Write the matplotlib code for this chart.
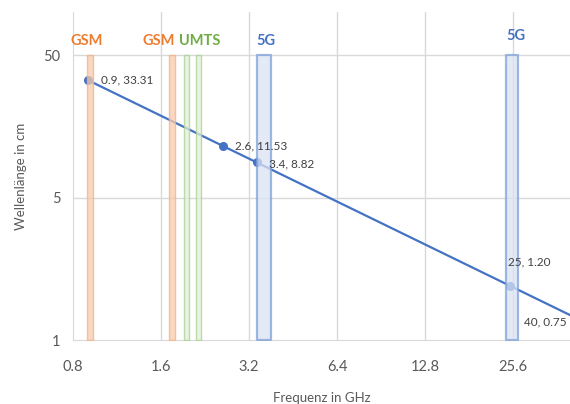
import matplotlib
matplotlib.use('Agg')
import matplotlib.pyplot as plt
from matplotlib.ticker import FixedLocator, NullLocator

plt.rcParams['font.family'] = ['Lato', 'DejaVu Sans']

# line data: wavelength (cm) over frequency (GHz)
freq = [0.9, 2.6, 3.4, 25, 40]
wave = [33.31, 11.53, 8.82, 1.20, 0.75]
point_labels = ['0.9, 33.31', '2.6, 11.53', '3.4, 8.82', '25, 1.20', '40, 0.75']
label_offsets = [(13, 0), (12, 0), (12, -1), (-2, 24), (-46, -7)]

# frequency bands (GHz)
band_lo = [0.89, 1.71, 1.92, 2.11, 3.4, 24.25]
band_hi = [0.935, 1.79, 1.99, 2.2, 3.8, 26.5]
band_kind = ['gsm', 'gsm', 'umts', 'umts', '5g', '5g']
band_top = 50
band_bottom = 0.5

band_names = ['GSM', 'GSM', 'UMTS', '5G', '5G']
band_name_x = [0.89, 1.575, 2.17, 3.66, 26.2]
band_name_y = [63, 63, 63, 63, 68]
band_name_kind = ['gsm', 'gsm', 'umts', '5g', '5g']

xticks = [0.8, 1.6, 3.2, 6.4, 12.8, 25.6]
xtick_labels = ['0.8', '1.6', '3.2', '6.4', '12.8', '25.6']
yticks = [0.5, 5, 50]
ytick_labels = ['1', '5', '50']

styles = {
    'gsm': dict(face='#F8CBAD', edge='#F4B183', lw=1.0, text='#ED7D31'),
    'umts': dict(face='#E2EFDA', edge='#A9D18E', lw=1.0, text='#70AD47'),
    '5g': dict(face='#DAE3F3', edge='#7EA1D9', lw=1.6, text='#4472C4'),
}

fig = plt.figure(figsize=(5.7, 4.04), dpi=100)
ax = fig.add_axes([0.128, 0.158, 0.872, 0.812])

ax.set_xscale('log', base=2)
ax.set_yscale('log', base=10)
ax.set_xlim(0.8, 40)
ax.set_ylim(0.5, 100)

# grid
for x in xticks[1:]:
    ax.axvline(x, color='#D9D9D9', lw=1.0, zorder=0)
for y in yticks[1:]:
    ax.axhline(y, color='#D9D9D9', lw=1.0, zorder=0)

# line (the last point lies outside the plot, only its label shows)
ax.plot(freq, wave, color='#4472C4', lw=1.6, marker='o', ms=5.5, zorder=2,
        markevery=[0, 1, 2, 3])

# bands drawn over the line
for lo, hi, kind in zip(band_lo, band_hi, band_kind):
    s = styles[kind]
    ax.fill_between([lo, hi], band_bottom, band_top, facecolor=s['face'], edgecolor=s['edge'],
                    lw=s['lw'], alpha=0.75, zorder=3)

for name, x, y, kind in zip(band_names, band_name_x, band_name_y, band_name_kind):
    ax.text(x, y, name, color=styles[kind]['text'], fontsize=10.5, fontweight='bold',
            ha='center', va='center', zorder=5)

for x, y, lab, off in zip(freq, wave, point_labels, label_offsets):
    ax.annotate(lab, (x, y), xytext=off, textcoords='offset pixels', fontsize=8.5,
                color='#404040', ha='left', va='center', zorder=6, annotation_clip=False)

ax.xaxis.set_major_locator(FixedLocator(xticks))
ax.xaxis.set_minor_locator(NullLocator())
ax.set_xticklabels(xtick_labels)
ax.yaxis.set_major_locator(FixedLocator(yticks))
ax.yaxis.set_minor_locator(NullLocator())
ax.set_yticklabels(ytick_labels)
ax.tick_params(length=0, labelsize=10.5, labelcolor='#595959')
ax.tick_params(axis='x', pad=14)
ax.tick_params(axis='y', pad=9)

for side in ['top', 'right']:
    ax.spines[side].set_visible(False)
for side in ['left', 'bottom']:
    ax.spines[side].set_color('#D9D9D9')

ax.set_xlabel('Frequenz in GHz', fontsize=9.5, color='#595959', labelpad=13)
ax.set_ylabel('Wellenlänge in cm', fontsize=9.5, color='#595959', labelpad=12)

plt.savefig('out.png', dpi=100)
